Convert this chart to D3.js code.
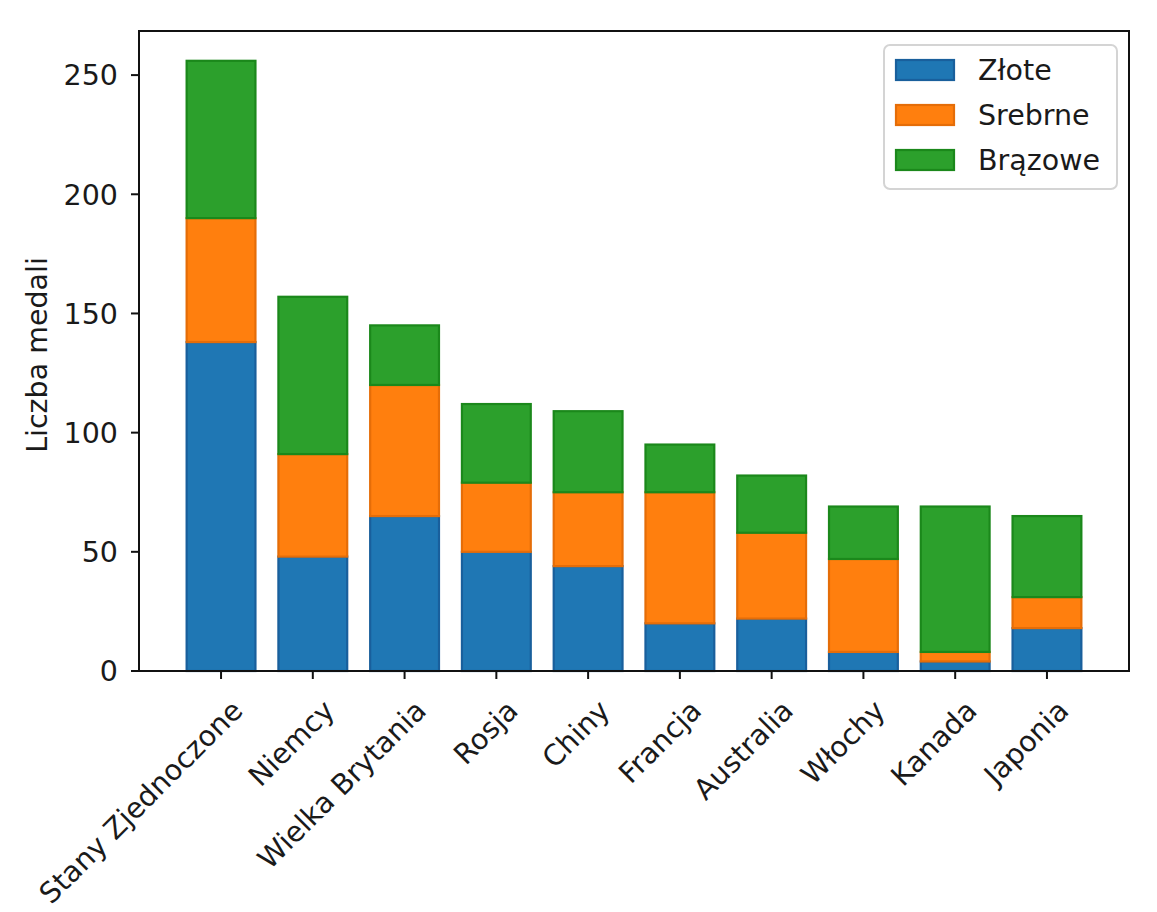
<!DOCTYPE html>
<html>
<head>
<meta charset="utf-8">
<script src="https://cdn.jsdelivr.net/npm/d3@7"></script>
<style>
  html, body { margin: 0; padding: 0; background: #fff; }
  svg { display: block; }
  text { font-family: "DejaVu Sans", sans-serif; fill: #1a1a1a; }
</style>
</head>
<body>
<svg id="chart" width="1157" height="912"></svg>
<script>
const countries = ["Stany Zjednoczone", "Niemcy", "Wielka Brytania", "Rosja", "Chiny", "Francja", "Australia", "Włochy", "Kanada", "Japonia"];
const gold   = [138, 48, 65, 50, 44, 20, 22, 8, 4, 18];
const silver = [52, 43, 55, 29, 31, 55, 36, 39, 4, 13];
const bronze = [66, 66, 25, 33, 34, 20, 24, 22, 61, 34];
const seriesNames = ["Złote", "Srebrne", "Brązowe"];
const yTicks = [0, 50, 100, 150, 200, 250];
const yLabel = "Liczba medali";

const colors = ["#1f77b4", "#ff7f0e", "#2ca02c"];
const edgeColors = ["#195f9c", "#e56d08", "#1b881b"];

const svg = d3.select("#chart");
const L = 139, R = 1129, T = 31, B = 671;
const FS = 28.5;

const x = d3.scalePoint().domain(countries).range([L, R]).padding(0.894);
const step = x.step();
const barW = step * 0.75;
const y = d3.scaleLinear().domain([0, 268.5]).range([B, T]);

const table = countries.map((c, i) => ({ country: c, "Złote": gold[i], "Srebrne": silver[i], "Brązowe": bronze[i] }));
const stacked = d3.stack().keys(seriesNames)(table);

// bars
const g = svg.append("g");
stacked.forEach((layer, si) => {
  g.selectAll(null).data(layer).enter().append("rect")
    .attr("x", d => x(d.data.country) - barW / 2)
    .attr("width", barW)
    .attr("y", d => y(d[1]))
    .attr("height", d => y(d[0]) - y(d[1]))
    .attr("fill", colors[si])
    .attr("stroke", edgeColors[si])
    .attr("stroke-width", 2.2);
});

// frame
svg.append("rect").attr("x", L).attr("y", T).attr("width", R - L).attr("height", B - T)
  .attr("fill", "none").attr("stroke", "#111").attr("stroke-width", 2);

// y axis ticks
const yAxis = svg.append("g");
yTicks.forEach(t => {
  yAxis.append("line").attr("x1", L - 8).attr("x2", L).attr("y1", y(t)).attr("y2", y(t))
    .attr("stroke", "#111").attr("stroke-width", 2);
  yAxis.append("text").attr("x", L - 21).attr("y", y(t)).attr("dy", "0.36em")
    .attr("text-anchor", "end").attr("font-size", FS).text(t);
});

// x axis ticks and labels
const xAxis = svg.append("g");
countries.forEach(c => {
  const cx = x(c);
  xAxis.append("line").attr("x1", cx).attr("x2", cx).attr("y1", B).attr("y2", B + 8)
    .attr("stroke", "#111").attr("stroke-width", 2);
  xAxis.append("text")
    .attr("transform", `translate(${cx + 9},${B + 27}) rotate(-45)`)
    .attr("text-anchor", "end").attr("dy", "0.71em").attr("font-size", FS).text(c);
});

// y label
svg.append("text").attr("transform", `translate(47,${(T + B) / 2 + 4}) rotate(-90)`)
  .attr("text-anchor", "middle").attr("font-size", FS).text(yLabel);

// legend
const lg = svg.append("g");
lg.append("rect").attr("x", 884).attr("y", 45).attr("width", 233).attr("height", 144)
  .attr("rx", 6).attr("fill", "#fff").attr("stroke", "#d4d4d4").attr("stroke-width", 2);
seriesNames.forEach((s, i) => {
  const cy = 70 + i * 45;
  lg.append("rect").attr("x", 896).attr("y", cy - 10).attr("width", 58).attr("height", 20)
    .attr("fill", colors[i]).attr("stroke", edgeColors[i]).attr("stroke-width", 2.2);
  lg.append("text").attr("x", 978).attr("y", cy).attr("dy", "0.36em")
    .attr("font-size", FS).text(s);
});
</script>
</body>
</html>
